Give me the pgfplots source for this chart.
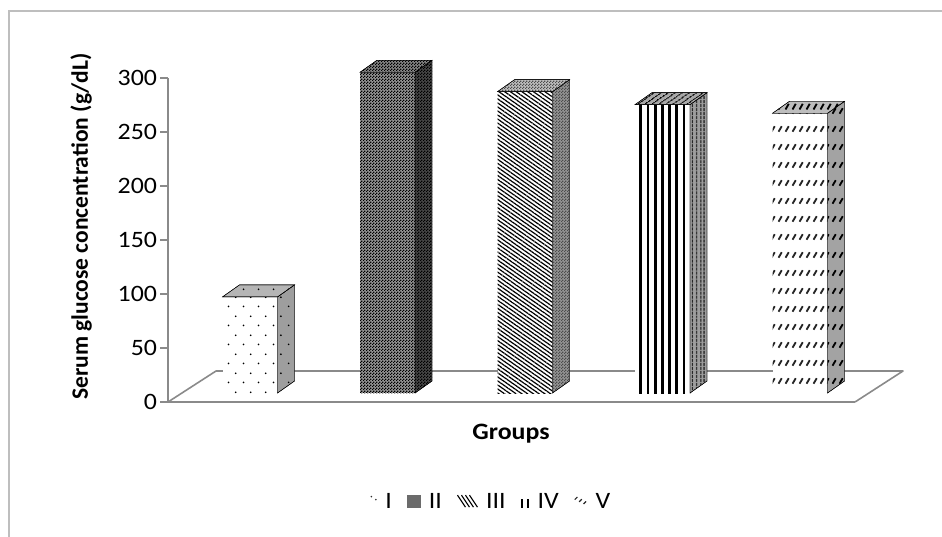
\documentclass[border=0pt]{standalone}
\usepackage{fontspec}
\usepackage{pgfplots}
\usepackage{pgfplotstable}
\pgfplotsset{compat=1.18}
\usetikzlibrary{patterns,patterns.meta}

\newfontfamily\chartfont[FakeStretch=1.1]{Carlito}
\newfontfamily\chartfontup{Carlito}
\newcommand\chartsize{\fontsize{23.5}{28}\selectfont}

\definecolor{axisgray}{HTML}{8A8A8A}
\definecolor{framegray}{HTML}{BEBEBE}

% staggered sparse dots (group I)
\pgfdeclarepatternformonly{sparsedots}{\pgfqpoint{0pt}{0pt}}{\pgfqpoint{15pt}{18.6pt}}{\pgfqpoint{15pt}{18.6pt}}{%
  \pgfpathcircle{\pgfqpoint{3.75pt}{4.65pt}}{0.95pt}%
  \pgfpathcircle{\pgfqpoint{11.25pt}{13.95pt}}{0.95pt}%
  \pgfusepath{fill}}
% fine checkerboard (group II)
\pgfdeclarepatternformonly{finechecker}{\pgfqpoint{0pt}{0pt}}{\pgfqpoint{3pt}{3pt}}{\pgfqpoint{3pt}{3pt}}{%
  \pgfpathrectangle{\pgfqpoint{0pt}{0pt}}{\pgfqpoint{1.5pt}{1.5pt}}%
  \pgfpathrectangle{\pgfqpoint{1.5pt}{1.5pt}}{\pgfqpoint{1.5pt}{1.5pt}}%
  \pgfusepath{fill}}
% rows of short slashes (group V)
\pgfdeclarepatternformonly{slashrows}{\pgfqpoint{0pt}{0pt}}{\pgfqpoint{6.7pt}{18.3pt}}{\pgfqpoint{6.7pt}{18.3pt}}{%
  \pgfsetlinewidth{1.9pt}%
  \pgfpathmoveto{\pgfqpoint{1.6pt}{6.5pt}}%
  \pgfpathlineto{\pgfqpoint{4.9pt}{12.2pt}}%
  \pgfusepath{stroke}}

\pgfdeclareplotmark{blank}{}

\tikzset{
  g1 front/.style={fill=white, postaction={pattern=sparsedots, pattern color=black}},
  g1 side/.style={fill=black!38, postaction={pattern=sparsedots, pattern color=black}},
  g1 top/.style={fill=black!29, postaction={pattern=sparsedots, pattern color=black}},
  g2 front/.style={fill=black!42, postaction={pattern=finechecker, pattern color=black}},
  g2 side/.style={fill=black!72, postaction={pattern=finechecker, pattern color=black}},
  g2 top/.style={fill=black!48, postaction={pattern=finechecker, pattern color=black}},
  g3 front/.style={fill=white, postaction={pattern={Lines[angle=-35,distance=3.3pt,line width=1.2pt]}, pattern color=black}},
  g3 side/.style={fill=black!42, postaction={pattern=finechecker, pattern color=black!70}},
  g3 top/.style={fill=black!25, postaction={pattern=finechecker, pattern color=black!70}},
  g4 front/.style={fill=white, postaction={pattern={Lines[angle=90,distance=7.2pt,line width=2.7pt]}, pattern color=black}},
  g4 side/.style={fill=black!38, postaction={pattern={Lines[angle=90,distance=4pt,line width=1.5pt]}, pattern color=black}},
  g4 top/.style={fill=black!34, postaction={pattern={Lines[angle=35,distance=4pt,line width=1.5pt]}, pattern color=black}},
  g5 front/.style={fill=white, postaction={pattern=slashrows, pattern color=black!85}},
  g5 side/.style={fill=black!36, postaction={pattern=slashrows, pattern color=black}},
  g5 top/.style={fill=black!26, postaction={pattern=slashrows, pattern color=black}},
  floorline/.style={draw=axisgray, line width=1.6pt, line join=round},
}

% side and top faces of a column; origin is the data point, \val its value
\newcommand\prismfaces[2]{%
  \path[#1] (27.5pt,9pt) -- ++(17pt,12pt) -- ++(0pt,{-1.08*\val*1pt}) -- ++(-17pt,-12pt) -- cycle;
  \path[#2] (-27.5pt,9pt) -- ++(17pt,12pt) -- ++(55pt,0pt) -- ++(-17pt,-12pt) -- cycle;
}

\pgfplotstableread{
grp v
0 89
1 297
2 279
3 267
4 259
}\glucose

\pgfplotsset{
  column front/.style={ybar, bar width=55pt, bar shift=0pt, yshift=9pt, draw=none, forget plot},
  column depth/.style 2 args={only marks, mark=blank, scatter, forget plot,
    visualization depends on={\thisrow{v} \as \val},
    scatter/@pre marker code/.code={\prismfaces{#1}{#2}},
    scatter/@post marker code/.code={}},
  % small legend keys
  key I/.style={legend image code/.code={%
    \path[draw=none] (0pt,-6pt) rectangle (8pt,7pt);
    \fill[black!80, draw=none] (2pt,5.5pt) circle (0.9pt) (6.5pt,2.5pt) circle (0.9pt);}},
  key II/.style={legend image code/.code={%
    \fill[black!58, draw=none] (0pt,-5.5pt) rectangle (14pt,7.5pt);}},
  key III/.style={legend image code/.code={%
    \path[draw=none] (0pt,-6pt) rectangle (19pt,7pt);
    \foreach \k in {0,4,8,12} {\draw[black, line width=1.1pt] (\k pt,7pt) -- ++(8pt,-12pt);}}},
  key IV/.style={legend image code/.code={%
    \path[draw=none] (0pt,-6pt) rectangle (9pt,7pt);
    \draw[black, line width=1.2pt] (1.5pt,-5.5pt) -- (1.5pt,3pt) (7.5pt,-5.5pt) -- (7.5pt,3pt);}},
  key V/.style={legend image code/.code={%
    \path[draw=none] (0pt,-6pt) rectangle (14pt,7pt);
    \foreach \k in {0,1,2} {\draw[black!85, line width=1.2pt] ({1pt+4.4*\k pt},{2.5pt-2.2*\k pt}) -- ++(2.6pt,2.6pt);}}},
}

\begin{document}
\begin{tikzpicture}
\useasboundingbox (0pt,0pt) rectangle (942pt,-536pt);
\begin{axis}[
  at={(168pt,-402pt)}, anchor=south west,
  scale only axis, width=687pt, height=324pt,
  xmin=-0.5964, xmax=4.4, ymin=0, ymax=300,
  clip=false,
  axis x line*=bottom, axis y line*=left,
  axis line style={draw=axisgray, line width=1.6pt},
  xtick=\empty,
  ytick={0,50,...,300},
  tick align=outside, major tick length=7.5pt,
  y tick style={draw=axisgray, line width=1.6pt},
  tick label style={font=\chartfont\chartsize},
  /pgf/number format/assume math mode=true,
  ylabel={Serum glucose concentration (g/dL)},
  ylabel style={font=\chartfontup\chartsize\bfseries, at={(axis description cs:-0.1266,0.5417)}, anchor=center},
  xlabel={Groups},
  xlabel style={font=\chartfont\chartsize\bfseries, at={(axis description cs:0.4993,-0.0988)}, anchor=center},
  legend style={draw=none, fill=none, at={(0.470,-0.309)}, anchor=center,
    legend columns=5, font=\chartfont\chartsize,
    /tikz/every odd column/.append style={column sep=6pt},
    /tikz/every even column/.append style={column sep=13pt}},
]
% floor of the plot area
\draw[floorline] (axis cs:4.4,0) -- ++(48pt,31pt)
  -- ([xshift=48pt,yshift=31pt]axis cs:-0.5964,0) -- (axis cs:-0.5964,0);

\addplot[column front, g1 front] table[x=grp, y=v, restrict expr to domain={\thisrow{grp}}{0:0}] {\glucose};
\addplot[column depth={g1 side}{g1 top}] table[x=grp, y=v, restrict expr to domain={\thisrow{grp}}{0:0}] {\glucose};
\addplot[column front, g2 front] table[x=grp, y=v, restrict expr to domain={\thisrow{grp}}{1:1}] {\glucose};
\addplot[column depth={g2 side}{g2 top}] table[x=grp, y=v, restrict expr to domain={\thisrow{grp}}{1:1}] {\glucose};
\addplot[column front, g3 front] table[x=grp, y=v, restrict expr to domain={\thisrow{grp}}{2:2}] {\glucose};
\addplot[column depth={g3 side}{g3 top}] table[x=grp, y=v, restrict expr to domain={\thisrow{grp}}{2:2}] {\glucose};
\addplot[column front, g4 front] table[x=grp, y=v, restrict expr to domain={\thisrow{grp}}{3:3}] {\glucose};
\addplot[column depth={g4 side}{g4 top}] table[x=grp, y=v, restrict expr to domain={\thisrow{grp}}{3:3}] {\glucose};
\addplot[column front, g5 front] table[x=grp, y=v, restrict expr to domain={\thisrow{grp}}{4:4}] {\glucose};
\addplot[column depth={g5 side}{g5 top}] table[x=grp, y=v, restrict expr to domain={\thisrow{grp}}{4:4}] {\glucose};

\addlegendimage{key I}\addlegendentry{I}
\addlegendimage{key II}\addlegendentry{II}
\addlegendimage{key III}\addlegendentry{III}
\addlegendimage{key IV}\addlegendentry{IV}
\addlegendimage{key V}\addlegendentry{V}
\end{axis}
\draw[framegray, line width=1.8pt] (8.8pt,-10.8pt) rectangle (1000pt,-600pt);
\end{tikzpicture}
\end{document}
